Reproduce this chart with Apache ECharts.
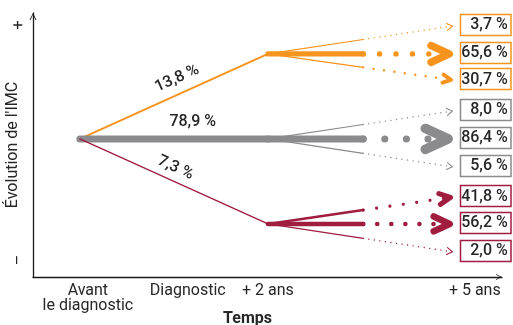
<!DOCTYPE html>
<html><head><meta charset="utf-8">
<script src="https://cdn.jsdelivr.net/npm/echarts@6/dist/echarts.min.js"></script>
<style>html,body{margin:0;padding:0;background:#fff}#c{width:513px;height:325px}</style>
</head><body><div id="c"></div>
<script>
// ---- data ----
const timeLabels = ['Avant\nle diagnostic', 'Diagnostic', '+ 2 ans', '+ 5 ans'];
const timeTicks = [11.7, 33.0, 50.1, 94.2];
const imcTickLabels = ['+', '–'];
const imcTicks = [95.5, 6.4];
const trajectoryNames = ['Hausse', 'Stable', 'Baisse'];
const startTime = 10.0;
const startLevel = 52.3;
const diagPct = [13.8, 78.9, 7.3];
const twoYearTime = 50.1;
const twoYearLevel = [84.5, 52.3, 20.1];
const splitTime = 70.4;
const fiveYearTime = 89.55;
const hausseOutcomePct = [3.7, 65.6, 30.7];
const stableOutcomePct = [8.0, 86.4, 5.6];
const baisseOutcomePct = [41.8, 56.2, 2.0];
const hausseOutcomeLevel = [95.1, 84.5, 74.6];
const stableOutcomeLevel = [62.9, 52.3, 41.7];
const baisseOutcomeLevel = [30.3, 20.1, 9.5];

// ---- styles ----
const colors = ['#F7941D', '#8B8B8E', '#A01D40'];
const textColor = '#262626';
const labelAlong = [0.55, 0.6, 0.48];
const labelOffset = [15, 17, 13];
const BOX_X = 91.0;
const BOX_W = 52, BOX_H = 21;

function fmt(p) { return p.toFixed(1).replace('.', ',') + ' %'; }
function phaseWidth(p) { return p >= 50 ? p * 0.09 : 0.6 + p * 0.1; }
function branchStyle(p) {
  if (p >= 50) return { solid: p * 0.082, dot: p * 0.082, gap: p * 0.25, w: 1 + p * 0.1, L: 3 + p * 0.23, H: 1.8 + p * 0.1 };
  if (p >= 35) return { solid: 2.6, dot: 3.2, gap: 13.5, w: 5, L: 11, H: 5.5 };
  if (p >= 20) return { solid: 1.4, dot: 2.4, gap: 10.5, w: 4, L: 8, H: 4 };
  return { solid: 1.2, dot: 1.4, gap: 5.6, w: 1.1, L: 5.5, H: 3.5 };
}

const outcomePct = [hausseOutcomePct, stableOutcomePct, baisseOutcomePct];
const outcomeLevel = [hausseOutcomeLevel, stableOutcomeLevel, baisseOutcomeLevel];

const phaseData = diagPct.map((p, g) => [startTime, startLevel, twoYearTime, twoYearLevel[g], p, g]);
let branchData = [];
let boxData = [];
outcomePct.forEach((arr, g) => arr.forEach((p, k) => {
  branchData.push([twoYearTime, twoYearLevel[g], fiveYearTime, outcomeLevel[g][k], p, g]);
  boxData.push([BOX_X, outcomeLevel[g][k], p, g]);
}));
branchData.sort((a, b) => a[4] - b[4]);

function unit(p0, p1) {
  const dx = p1[0] - p0[0], dy = p1[1] - p0[1];
  const len = Math.hypot(dx, dy);
  return [dx, dy, dx / len, dy / len];
}

const chart = echarts.init(document.getElementById('c'), null, { renderer: 'canvas' });
const arrowPath = 'path://M0,10 L5,0 L10,10 L8.6,10 L5,2.6 L1.4,10 Z';
chart.setOption({
  animation: false,
  backgroundColor: '#fff',
  grid: { left: 33, right: 11, top: 13, bottom: 48, containLabel: false, outerBoundsMode: 'none' },
  xAxis: {
    type: 'value', min: 0, max: 100,
    name: 'Temps', nameLocation: 'middle', nameGap: 34, nameMoveOverlap: false,
    nameTextStyle: { fontFamily: 'Roboto', fontSize: 16, fontWeight: 'bold', color: textColor, padding: [0, 40, 0, 0] },
    axisLine: { show: true, symbol: ['none', arrowPath], symbolSize: [10, 6], symbolOffset: [0, -3],
      lineStyle: { color: '#1A1A1A', width: 1.3 } },
    axisTick: { show: false }, splitLine: { show: false },
    axisLabel: {
      customValues: timeTicks, margin: 6,
      fontFamily: 'Roboto', fontSize: 16, lineHeight: 15, color: textColor,
      formatter: function (v) {
        let best = 0;
        timeTicks.forEach((t, i) => { if (Math.abs(t - v) < Math.abs(timeTicks[best] - v)) best = i; });
        return timeLabels[best];
      }
    }
  },
  yAxis: {
    type: 'value', min: 0, max: 100,
    name: "Évolution de l'IMC", nameLocation: 'middle', nameGap: 12, nameRotate: 90, nameMoveOverlap: false,
    nameTextStyle: { fontFamily: 'Roboto', fontSize: 16, color: textColor },
    axisLine: { show: true, symbol: ['none', arrowPath], symbolSize: [9, 7], symbolOffset: [0, -3.5],
      lineStyle: { color: '#1A1A1A', width: 1.3 } },
    axisTick: { show: false }, splitLine: { show: false },
    axisLabel: {
      customValues: imcTicks, rotate: 90, margin: 6,
      fontFamily: 'Roboto', fontSize: 16, color: textColor,
      formatter: function (v) { return v > 50 ? imcTickLabels[0] : imcTickLabels[1]; }
    }
  },
  series: [
    {
      type: 'custom', name: 'Avant → + 2 ans', coordinateSystem: 'cartesian2d', clip: false, z: 2,
      data: phaseData,
      renderItem: function (params, api) {
        const p0 = api.coord([api.value(0), api.value(1)]);
        const p1 = api.coord([api.value(2), api.value(3)]);
        const pct = api.value(4), g = api.value(5);
        const [dx, dy, ux, uy] = unit(p0, p1);
        const f = labelAlong[g], off = labelOffset[g];
        const lx = p0[0] + dx * f + uy * off, ly = p0[1] + dy * f - ux * off;
        return { type: 'group', children: [
          { type: 'line', shape: { x1: p0[0], y1: p0[1], x2: p1[0], y2: p1[1] },
            style: { stroke: colors[g], lineWidth: phaseWidth(pct), lineCap: 'round' } },
          { type: 'text', x: lx, y: ly, rotation: -Math.atan2(uy, ux),
            style: { text: fmt(pct), fill: textColor, fontFamily: 'Roboto', fontSize: 16, fontWeight: 500, align: 'center', verticalAlign: 'middle' } }
        ] };
      }
    },
    {
      type: 'custom', name: '+ 2 ans → + 5 ans', coordinateSystem: 'cartesian2d', clip: false, z: 3,
      data: branchData,
      renderItem: function (params, api) {
        const p0 = api.coord([api.value(0), api.value(1)]);
        const p1 = api.coord([api.value(2), api.value(3)]);
        const pct = api.value(4), g = api.value(5);
        const st = branchStyle(pct);
        const [dx, dy, ux, uy] = unit(p0, p1);
        const xs = api.coord([splitTime, 0])[0];
        const t = (xs - p0[0]) / dx;
        const ps = [p0[0] + dx * t, p0[1] + dy * t];
        const tip = [p1[0] - ux * st.w / 2, p1[1] - uy * st.w / 2];
        const back = [tip[0] - ux * st.L, tip[1] - uy * st.L];
        const nx = -uy, ny = ux;
        const dEnd = [back[0] + ux * st.L * 0.4, back[1] + uy * st.L * 0.4];
        const c = colors[g];
        return { type: 'group', children: [
          { type: 'line', shape: { x1: p0[0], y1: p0[1], x2: ps[0], y2: ps[1] },
            style: { stroke: c, lineWidth: st.solid, lineCap: 'round' } },
          { type: 'line', shape: { x1: ps[0], y1: ps[1], x2: dEnd[0], y2: dEnd[1] },
            style: { stroke: c, lineWidth: st.dot, lineCap: 'round', lineDash: [0.01, st.gap] } },
          { type: 'polyline', shape: { points: [
              [back[0] + nx * st.H, back[1] + ny * st.H], tip, [back[0] - nx * st.H, back[1] - ny * st.H]] },
            style: { stroke: c, fill: null, lineWidth: st.w, lineCap: 'round', lineJoin: 'round' } }
        ] };
      }
    },
    {
      type: 'custom', name: 'Résultat à + 5 ans', coordinateSystem: 'cartesian2d', clip: false, z: 4,
      data: boxData,
      renderItem: function (params, api) {
        const p = api.coord([api.value(0), api.value(1)]);
        const pct = api.value(2), g = api.value(3);
        const top = p[1] - 1.5 - BOX_H / 2;
        return { type: 'group', children: [
          { type: 'rect', shape: { x: Math.round(p[0]) + 0.5, y: Math.round(top) + 0.5, width: BOX_W - 1.5, height: BOX_H },
            style: { stroke: colors[g], lineWidth: 1.5, fill: '#fff' } },
          { type: 'text', x: p[0] + BOX_W - 4, y: top + BOX_H / 2 + 1,
            style: { text: fmt(pct), fill: textColor, fontFamily: 'Roboto', fontSize: 16, fontWeight: 500, align: 'right', verticalAlign: 'middle' } }
        ] };
      }
    }
  ]
});
</script></body></html>
